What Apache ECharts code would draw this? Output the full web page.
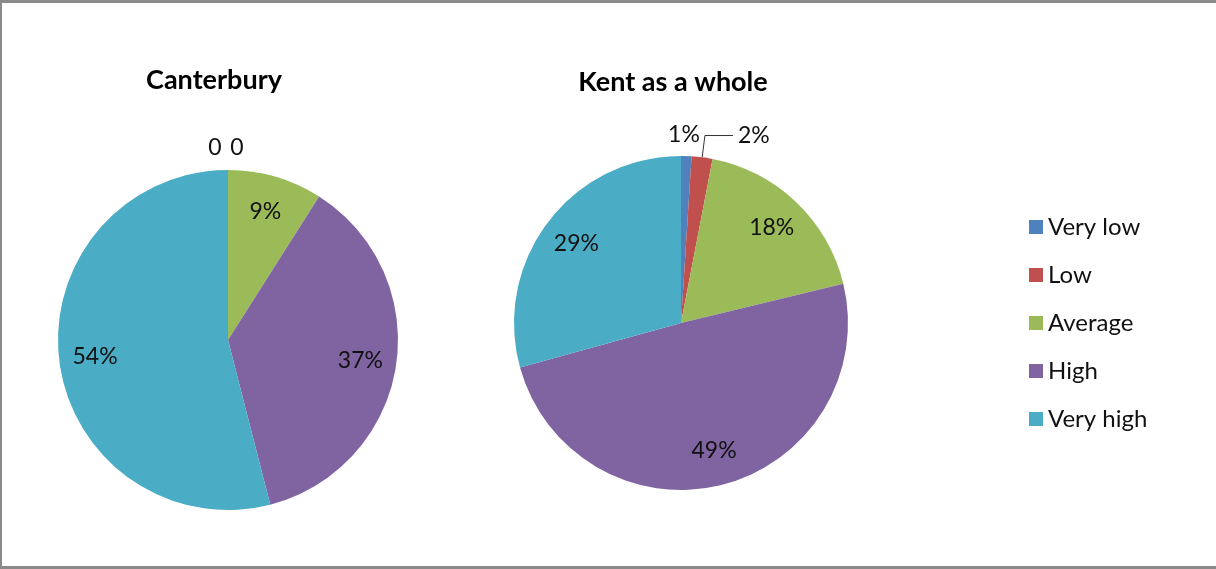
<!DOCTYPE html>
<html>
<head>
<meta charset="utf-8">
<script src="https://cdn.jsdelivr.net/npm/echarts@6/dist/echarts.min.js"></script>
<style>
  html, body { margin: 0; padding: 0; background: #fff; }
  #wrap { position: relative; width: 1216px; height: 569px; }
  #chart { position: absolute; left: 0; top: 0; width: 1216px; height: 569px; }
  #frame {
    position: absolute; left: 0; top: 0; width: 1216px; height: 569px;
    box-sizing: border-box; pointer-events: none;
    border-top: 3px solid #8a8a8a; border-left: 2px solid #8a8a8a; border-bottom: 3px solid #8a8a8a;
  }
</style>
</head>
<body>
<div id="wrap">
  <div id="chart"></div>
  <div id="frame"></div>
</div>
<script>
const categories = ['Very low', 'Low', 'Average', 'High', 'Very high']
const canterburyValues = [0, 0, 9, 37, 54]
const kentValues = [1, 2, 18, 49, 29]
const colors = ['#4f81bd', '#c0504d', '#9bbb59', '#8064a2', '#4bacc6']

const font = 'Lato, "Open Sans", sans-serif'
const textColor = '#111'
const labelSize = 23

function fmt(p) {
  return p.value === 0 ? '0' : p.value + '%'
}

// small slices get their label outside, the rest are labelled by an overlay ring
function isSmall(v) {
  return v <= 2
}

function mainSeries(name, values, center, r, lineIdx, layout) {
  return {
    name: name,
    type: 'pie',
    center: center,
    radius: [0, r],
    startAngle: 90,
    clockwise: true,
    avoidLabelOverlap: false,
    silent: true,
    itemStyle: { borderWidth: 0 },
    label: {
      show: true,
      position: 'outside',
      formatter: fmt,
      fontFamily: font,
      fontSize: labelSize,
      color: textColor
    },
    labelLine: { show: false, length: 22, length2: 0 },
    labelLayout: layout,
    data: categories.map(function (c, i) {
      const item = { name: c, value: values[i], itemStyle: { color: colors[i] } }
      if (!isSmall(values[i])) {
        item.label = { show: false }
      } else if (i === lineIdx) {
        item.labelLine = { show: true, length: 22, length2: 28, lineStyle: { color: '#333', width: 1 } }
      }
      return item
    })
  }
}

function labelRing(name, values, center, r) {
  return {
    name: name + '-labels',
    type: 'pie',
    center: center,
    radius: [Math.round(r * 0.54), r],
    startAngle: 90,
    clockwise: true,
    silent: true,
    avoidLabelOverlap: false,
    itemStyle: { color: 'rgba(0,0,0,0)' },
    label: {
      show: true,
      position: 'inside',
      formatter: fmt,
      fontFamily: font,
      fontSize: labelSize,
      color: textColor
    },
    labelLine: { show: false },
    data: categories.map(function (c, i) {
      return {
        name: c,
        value: values[i],
        label: { show: !isSmall(values[i]) }
      }
    })
  }
}

const chart = echarts.init(document.getElementById('chart'))

chart.setOption({
  animation: false,
  title: [
    {
      text: 'Canterbury',
      left: 209,
      top: 62,
      textAlign: 'center',
      textStyle: { fontFamily: font, fontSize: 27, fontWeight: 'bold', color: '#000' }
    },
    {
      text: 'Kent as a whole',
      left: 668,
      top: 64,
      textAlign: 'center',
      textStyle: { fontFamily: font, fontSize: 27, fontWeight: 'bold', color: '#000' }
    }
  ],
  legend: {
    orient: 'vertical',
    left: 1029,
    top: 215,
    padding: 0,
    icon: 'rect',
    itemWidth: 14,
    itemHeight: 14,
    itemGap: 24,
    selectedMode: false,
    textStyle: { fontFamily: font, fontSize: 24, color: textColor },
    data: categories.map(function (c, i) {
      return { name: c, itemStyle: { color: colors[i] } }
    })
  },
  series: [
    mainSeries('Canterbury', canterburyValues, [228, 340], 170, -1, function (p) {
      return { align: 'center', dx: p.dataIndex === 0 ? -8 : 14 }
    }),
    labelRing('Canterbury', canterburyValues, [228, 340], 170),
    mainSeries('Kent as a whole', kentValues, [681, 323], 167, 1, function (p) {
      return p.dataIndex === 0 ? { align: 'center', dx: -8 } : {}
    }),
    labelRing('Kent as a whole', kentValues, [681, 323], 167)
  ]
})
</script>
</body>
</html>
